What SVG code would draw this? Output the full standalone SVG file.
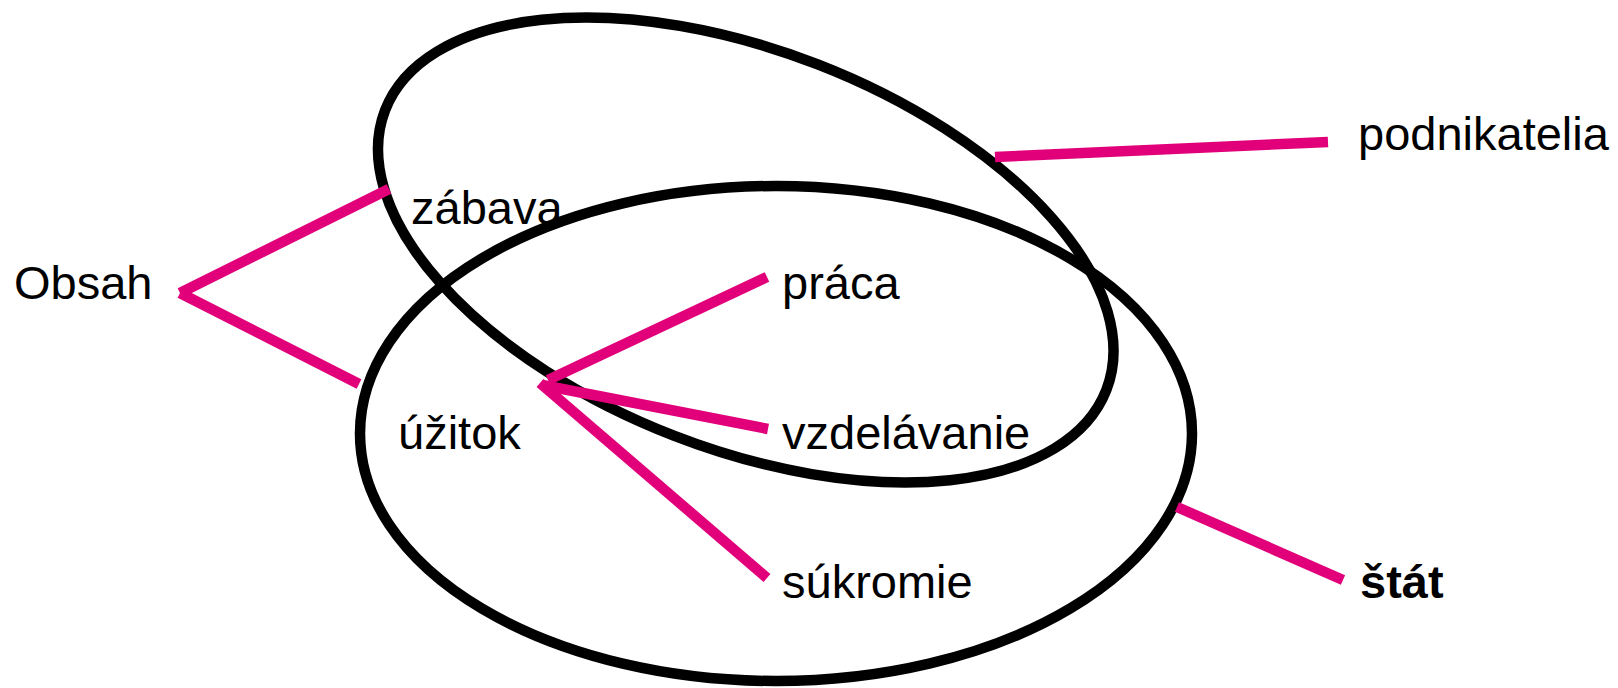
<svg xmlns="http://www.w3.org/2000/svg" width="1618" height="688" viewBox="0 0 1618 688">
<style>
.ring{fill:none;stroke:#000;stroke-width:10.5}
.link{stroke:#E2007A;stroke-width:10.5;stroke-linecap:butt;fill:none}
.lbl{font-family:"Liberation Sans",Arial,sans-serif;font-size:47px;fill:#000}
.bold{font-weight:bold}
</style>
<rect width="1618" height="688" fill="#fff"/>
<g id="ellipse-lower"><ellipse class="ring" cx="776" cy="433.5" rx="416" ry="247.5"/></g>
<g id="ellipse-upper"><ellipse class="ring" cx="745.75" cy="250" rx="386.8" ry="199.1" transform="rotate(21.2 745.75 250)"/></g>
<g id="connectors">
<line class="link" x1="180" y1="293" x2="389" y2="189"/>
<line class="link" x1="180" y1="293" x2="359" y2="384"/>
<line class="link" x1="995" y1="157" x2="1328" y2="142"/>
<line class="link" x1="1177" y1="507" x2="1343" y2="580"/>
<line class="link" x1="548" y1="380" x2="767" y2="277"/>
<line class="link" x1="542" y1="385" x2="768" y2="429"/>
<line class="link" x1="540" y1="383" x2="767" y2="578"/>
</g>
<g id="node-obsah"><text class="lbl" x="14" y="299">Obsah</text></g>
<g id="node-zabava"><text class="lbl" x="411" y="224">zábava</text></g>
<g id="node-uzitok"><text class="lbl" x="398" y="449">úžitok</text></g>
<g id="node-praca"><text class="lbl" x="782" y="299">práca</text></g>
<g id="node-vzdelavanie"><text class="lbl" x="782" y="449">vzdelávanie</text></g>
<g id="node-sukromie"><text class="lbl" x="782" y="598">súkromie</text></g>
<g id="node-podnikatelia"><text class="lbl" x="1358" y="150">podnikatelia</text></g>
<g id="node-stat"><text class="lbl bold" x="1360" y="598">štát</text></g>
</svg>
